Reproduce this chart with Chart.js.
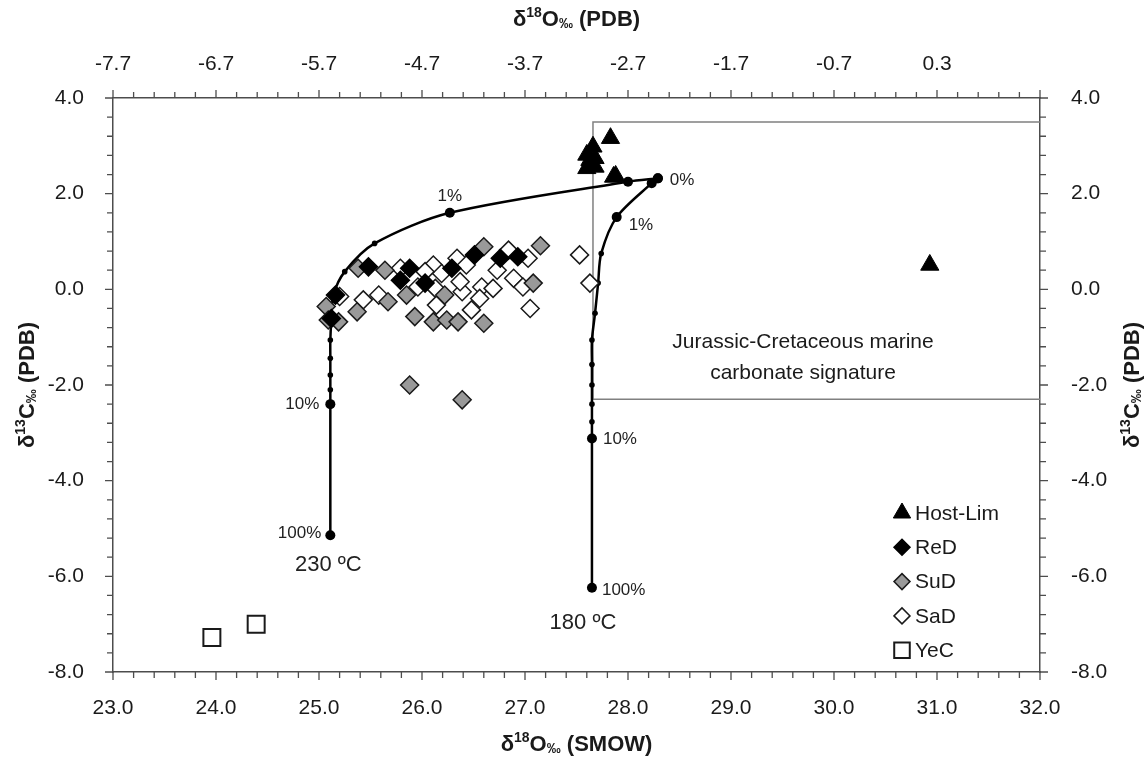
<!DOCTYPE html>
<html>
<head>
<meta charset="utf-8">
<script src="https://cdn.jsdelivr.net/npm/chart.js@4.4.0/dist/chart.umd.min.js"></script>
<style>
  body { margin: 0; background: #fff; }
  #wrap { width: 1148px; height: 764px; }
</style>
</head>
<body>
<div id="wrap"><canvas id="myChart"></canvas></div>
<script>
// tick labels
const xTicks = [23, 24, 25, 26, 27, 28, 29, 30, 31, 32];
const topTicks = [-7.7, -6.7, -5.7, -4.7, -3.7, -2.7, -1.7, -0.7, 0.3];
const yTicks = [4, 2, 0, -2, -4, -6, -8];

// samples: [d18O SMOW, d13C PDB]
const hostLim = [[27.60, 2.81], [27.66, 2.98], [27.68, 2.74], [27.60, 2.53], [27.68, 2.56],
  [27.63, 2.70], [27.83, 3.16], [27.86, 2.35], [27.88, 2.37], [30.93, 0.51]];
const reD = [[25.48, 0.47], [25.16, -0.12], [25.12, -0.61], [25.88, 0.44], [25.79, 0.19],
  [26.03, 0.13], [26.29, 0.44], [26.51, 0.72], [26.76, 0.65], [26.93, 0.68]];
const suD = [[25.38, 0.44], [25.64, 0.40], [25.07, -0.36], [25.09, -0.64], [25.19, -0.68],
  [25.37, -0.47], [25.67, -0.26], [25.85, -0.12], [25.93, -0.57], [26.11, -0.68],
  [26.22, -0.12], [26.24, -0.64], [26.35, -0.68], [26.60, -0.71], [26.60, 0.89],
  [27.15, 0.91], [27.08, 0.13], [25.88, -2.00], [26.39, -2.31]];
const saD = [[25.20, -0.15], [25.43, -0.22], [25.58, -0.12], [25.79, 0.44], [25.96, 0.05],
  [26.11, 0.51], [26.13, 0.02], [26.19, 0.33], [26.14, -0.33], [26.34, 0.65],
  [26.43, 0.51], [26.39, -0.05], [26.58, 0.05], [26.56, -0.19], [26.48, -0.43],
  [26.69, 0.02], [26.73, 0.40], [26.84, 0.82], [27.03, 0.65], [26.89, 0.23],
  [26.98, 0.05], [27.05, -0.40], [27.53, 0.72], [27.63, 0.13], [26.37, 0.16], [26.03, 0.37]];
const yeC = [[23.96, -7.28], [24.39, -7.00]];

// fluid-rock mixing curves
const curve230 = [[28.29, 2.32], [28.00, 2.25], [26.27, 1.60], [25.54, 0.96], [25.25, 0.37],
  [25.14, -0.12], [25.12, -0.64], [25.11, -1.06], [25.11, -1.44], [25.11, -1.79],
  [25.11, -2.10], [25.11, -2.40], [25.11, -5.14]];
const curve230Major = [0, 1, 2, 11, 12];
const curve180 = [[28.29, 2.32], [28.23, 2.22], [27.89, 1.51], [27.74, 0.75], [27.71, 0.13],
  [27.68, -0.50], [27.65, -1.06], [27.65, -1.57], [27.65, -2.00], [27.65, -2.40],
  [27.65, -2.77], [27.65, -3.12], [27.65, -6.24]];
const curve180Major = [0, 1, 2, 11, 12];

const marineBox = [[32, 3.5], [27.66, 3.5], [27.66, -2.3], [32, -2.3]];

const FAM = "'Liberation Sans', Arial, sans-serif";
const AXIS = '#4d4d4d';

const pts = (arr) => arr.map(p => ({ x: p[0], y: p[1] }));

function richText(ctx, parts, x, y, angle) {
  ctx.save();
  ctx.translate(x, y);
  ctx.rotate(angle);
  ctx.textBaseline = 'middle';
  ctx.textAlign = 'left';
  let total = 0;
  parts.forEach(p => {
    ctx.font = 'bold ' + p.s + 'px ' + FAM;
    p.w = ctx.measureText(p.t).width;
    total += p.w;
  });
  let cx = -total / 2;
  parts.forEach(p => {
    ctx.font = 'bold ' + p.s + 'px ' + FAM;
    ctx.fillText(p.t, cx, p.dy || 0);
    cx += p.w;
  });
  ctx.restore();
}

const oTitle = (tail) => [{ t: 'δ', s: 22 }, { t: '18', s: 14, dy: -7 }, { t: 'O', s: 22 },
  { t: '‰', s: 14, dy: 4 }, { t: tail, s: 22 }];
const cTitle = [{ t: 'δ', s: 22 }, { t: '13', s: 14, dy: -7 }, { t: 'C', s: 22 },
  { t: '‰', s: 14, dy: 4 }, { t: ' (PDB)', s: 22 }];

const decor = {
  id: 'decor',
  afterDraw(chart) {
    const ctx = chart.ctx;
    const sx = chart.scales.x, sy = chart.scales.y;
    const a = chart.chartArea;

    // tick marks (major + minor)
    ctx.save();
    ctx.strokeStyle = AXIS;
    ctx.lineWidth = 1.3;
    ctx.beginPath();
    for (let i = 0; i <= 45; i++) {
      const len = i % 5 === 0 ? 8 : 6;
      const px = sx.getPixelForValue(23 + i * 0.2);
      ctx.moveTo(px, a.bottom); ctx.lineTo(px, a.bottom + len);
      const pt = chart.scales.x2.getPixelForValue(-7.7 + i * 0.2);
      ctx.moveTo(pt, a.top); ctx.lineTo(pt, a.top - len);
    }
    for (let i = 0; i <= 30; i++) {
      const len = i % 5 === 0 ? 8 : 6;
      const py = sy.getPixelForValue(-8 + i * 0.4);
      ctx.moveTo(a.left, py); ctx.lineTo(a.left - len, py);
      const py2 = chart.scales.y2.getPixelForValue(-8 + i * 0.4);
      ctx.moveTo(a.right, py2); ctx.lineTo(a.right + len, py2);
    }
    ctx.stroke();
    ctx.restore();

    // axis titles
    ctx.save();
    ctx.fillStyle = '#1a1a1a';
    const mid = (a.left + a.right) / 2, midY = (a.top + a.bottom) / 2;
    richText(ctx, oTitle(' (PDB)'), mid, 20, 0);
    richText(ctx, oTitle(' (SMOW)'), mid, 745, 0);
    richText(ctx, cTitle, 28, midY, -Math.PI / 2);
    richText(ctx, cTitle, 1133, midY, -Math.PI / 2);
    ctx.restore();

    // curve annotations
    ctx.save();
    ctx.fillStyle = '#222';
    ctx.textBaseline = 'middle';
    const at = (p) => [sx.getPixelForValue(p[0]), sy.getPixelForValue(p[1])];
    const lab = (txt, p, dx, dy, align, size) => {
      const [px, py] = at(p);
      ctx.font = size + 'px ' + FAM;
      ctx.textAlign = align;
      ctx.fillText(txt, px + dx, py + dy);
    };
    lab('0%', curve180[0], 12, 2, 'left', 17);
    lab('1%', curve230[2], 0, -16, 'center', 17);
    lab('1%', curve180[2], 12, 8, 'left', 17);
    lab('10%', curve230[11], -11, 0, 'right', 17);
    lab('100%', curve230[12], -9, -2, 'right', 17);
    lab('10%', curve180[11], 11, 1, 'left', 17);
    lab('100%', curve180[12], 10, 2, 'left', 17);
    lab('230 ºC', curve230[12], -2, 30, 'center', 22);
    lab('180 ºC', curve180[12], -9, 35, 'center', 22);

    // marine field label
    ctx.font = '21px ' + FAM;
    ctx.textAlign = 'center';
    ctx.fillStyle = '#1a1a1a';
    ctx.fillText('Jurassic-Cretaceous marine', 803, 342);
    ctx.fillText('carbonate signature', 803, 373);
    ctx.restore();

    // legend
    ctx.save();
    const items = [0, 1, 2, 3, 4];
    items.forEach((di, i) => {
      const ds = chart.data.datasets[di];
      const y = 513 + i * 34.3;
      ctx.fillStyle = ds.backgroundColor;
      ctx.strokeStyle = ds.borderColor;
      ctx.lineWidth = ds.borderWidth;
      const r = ds.pointStyle === 'rect' ? 11 : (ds.pointStyle === 'triangle' ? 10 : 8);
      Chart.helpers.drawPoint(ctx, { pointStyle: ds.pointStyle, radius: r, borderWidth: ds.borderWidth, rotation: 0 }, 902, y);
      ctx.fillStyle = '#1a1a1a';
      ctx.font = '21px ' + FAM;
      ctx.textAlign = 'left';
      ctx.textBaseline = 'middle';
      ctx.fillText(ds.label, 915, y + 1);
    });
    ctx.restore();
  }
};

Chart.defaults.font.family = FAM;
Chart.defaults.font.size = 21;
Chart.defaults.color = '#1a1a1a';

const curveRadius = (major) => (c) => major.includes(c.dataIndex) ? 5 : 2.8;

const axisBase = {
  type: 'linear',
  grid: { display: false },
  border: { display: true, color: AXIS, width: 1.5 }
};

new Chart(document.getElementById('myChart'), {
  type: 'scatter',
  data: {
    datasets: [
      { label: 'Host-Lim', data: pts(hostLim), pointStyle: 'triangle', pointRadius: 10.5,
        backgroundColor: '#000', borderColor: '#000', borderWidth: 1 },
      { label: 'ReD', data: pts(reD), pointStyle: 'rectRot', pointRadius: 9,
        backgroundColor: '#000', borderColor: '#000', borderWidth: 1.5 },
      { label: 'SuD', data: pts(suD), pointStyle: 'rectRot', pointRadius: 9,
        backgroundColor: '#999999', borderColor: '#1a1a1a', borderWidth: 1.5 },
      { label: 'SaD', data: pts(saD), pointStyle: 'rectRot', pointRadius: 9,
        backgroundColor: '#ffffff', borderColor: '#1a1a1a', borderWidth: 1.5 },
      { label: 'YeC', data: pts(yeC), pointStyle: 'rect', pointRadius: 12,
        backgroundColor: '#ffffff', borderColor: '#1a1a1a', borderWidth: 2 },
      { label: '230', data: pts(curve230), showLine: true, tension: 0.3,
        borderColor: '#000', borderWidth: 2.5, backgroundColor: '#000',
        pointRadius: curveRadius(curve230Major), pointBorderWidth: 0 },
      { label: '180', data: pts(curve180), showLine: true, tension: 0.3,
        borderColor: '#000', borderWidth: 2.5, backgroundColor: '#000',
        pointRadius: curveRadius(curve180Major), pointBorderWidth: 0 },
      { label: 'box', data: pts(marineBox), showLine: true, tension: 0,
        borderColor: '#808080', borderWidth: 1.5, pointRadius: 0 }
    ]
  },
  options: {
    responsive: true,
    maintainAspectRatio: false,
    animation: false,
    events: [],
    layout: { padding: 0 },
    plugins: { legend: { display: false }, tooltip: { enabled: false } },
    scales: {
      x: { ...axisBase, position: 'bottom', min: 23, max: 32,
        afterBuildTicks: s => { s.ticks = xTicks.map(v => ({ value: v })); },
        afterFit: s => { s.height = 92; },
        ticks: { padding: 16, maxRotation: 0, autoSkip: false, callback: v => Number(v).toFixed(1) } },
      x2: { ...axisBase, position: 'top', min: -7.7, max: 1.3,
        afterBuildTicks: s => { s.ticks = topTicks.map(v => ({ value: v })); },
        afterFit: s => { s.height = 98; },
        ticks: { padding: 13, maxRotation: 0, autoSkip: false, callback: v => Number(v).toFixed(1) } },
      y: { ...axisBase, position: 'left', min: -8, max: 4,
        afterBuildTicks: s => { s.ticks = yTicks.map(v => ({ value: v })); },
        afterFit: s => { s.width = 113; },
        ticks: { padding: 21, autoSkip: false, callback: v => Number(v).toFixed(1) } },
      y2: { ...axisBase, position: 'right', min: -8, max: 4,
        afterBuildTicks: s => { s.ticks = yTicks.map(v => ({ value: v })); },
        afterFit: s => { s.width = 108; },
        ticks: { padding: 23, autoSkip: false, callback: v => Number(v).toFixed(1) } }
    }
  },
  plugins: [decor]
});
</script>
</body>
</html>
